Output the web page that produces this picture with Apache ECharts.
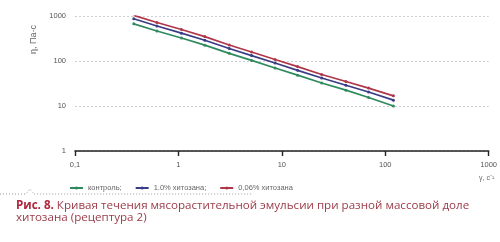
<!DOCTYPE html>
<html><head><meta charset="utf-8">
<script src="https://cdn.jsdelivr.net/npm/echarts@6/dist/echarts.min.js"></script>
<style>html,body{margin:0;padding:0;background:#fff}#c{width:500px;height:242px}</style>
</head><body><div id="c"></div>
<script>
const shearRate = [0.37, 0.62, 1.07, 1.8, 3.1, 5.1, 8.6, 14.2, 24.3, 41.7, 69, 120];
const seriesNames = ['контроль;', '1.0% хитозана;', '0,06% хитозана'];
const control = [670, 465, 325, 225, 148, 103, 70, 48.5, 32.5, 22.5, 15.5, 10];
const chitosan10 = [870, 600, 415, 290, 190, 132, 90, 62, 42, 29, 20.5, 13.5];
const chitosan006 = [1035, 718, 500, 349, 227, 158, 108, 75, 50, 35, 25, 16.8];
const xTickLabels = {'0.1':'0,1','1':'1','10':'10','100':'100','1000':'1000'};
const yTickLabels = {'1':'1','10':'10','100':'100','1000':'1000'};

const pairs = ys => shearRate.map((x,i)=>[x, ys[i]]);
const colors = ['#2f8a5e', '#3a3d86', '#b0374a'];
const chart = echarts.init(document.getElementById('c'), null, {renderer:'canvas'});
const font = 'Liberation Sans';
const mk = (name, ys, color) => ({
  name, type:'line', data: pairs(ys), symbol:'circle', symbolSize:3,
  lineStyle:{color, width:1.7}, itemStyle:{color}, z:3
});
chart.setOption({
  animation:false,
  grid:{left:75, right:2, top:16, bottom:91, containLabel:false},
  legend:{
    left:64, top:179, itemWidth:13, itemHeight:4, itemGap:13,
    textStyle:{fontSize:7.5, color:'#666', fontFamily:font},
    data: seriesNames
  },
  xAxis:{
    type:'log', logBase:10, min:0.1, max:1000,
    axisLine:{show:true, lineStyle:{color:'#222', width:1.6}},
    axisTick:{show:true, length:5, lineStyle:{color:'#222', width:1.4}},
    minorTick:{show:false},
    splitLine:{show:false},
    axisLabel:{fontSize:7.5, color:'#555', fontFamily:font, margin:10,
      formatter:v=>xTickLabels[String(+v.toPrecision(6))] || ''}
  },
  yAxis:{
    type:'log', logBase:10, min:1, max:1000,
    name:'η, Па·с', nameLocation:'middle', nameRotate:90, nameGap:31,
    nameTextStyle:{fontSize:9, color:'#666', fontFamily:font, padding:[0,0,0,88]},
    axisLine:{show:false}, axisTick:{show:false},
    splitLine:{show:true, lineStyle:{color:'#cfcfcf', type:[2,2], width:1}},
    axisLabel:{fontSize:7.5, color:'#555', fontFamily:font, margin:9,
      formatter:v=>yTickLabels[String(+v.toPrecision(6))] || ''}
  },
  series:[
    mk(seriesNames[0], control, colors[0]),
    mk(seriesNames[1], chitosan10, colors[1]),
    mk(seriesNames[2], chitosan006, colors[2])
  ],
  graphic:[
    {type:'text', left:479, top:175, style:{text:'γ, с⁻¹', fontSize:7, fill:'#666', fontFamily:font}},
    {type:'polyline', shape:{points:[[0,194],[26,194],[30,189],[34,194],[253,194]]},
      style:{stroke:'#999', lineWidth:1, lineDash:[1,2], fill:null}},
    {type:'text', left:16, top:200, style:{
      rich:{b:{fontWeight:'bold', fill:'#b0263c', fontSize:11.6, fontFamily:'Open Sans'},
            n:{fill:'#9c3a48', fontSize:11.6, fontFamily:'Open Sans'}},
      text:'{b|Рис. 8.}{n| Кривая течения мясорастительной эмульсии при разной массовой доле}\n{n|хитозана (рецептура 2)}',
      lineHeight:12
    }}
  ]
});
</script></body></html>
